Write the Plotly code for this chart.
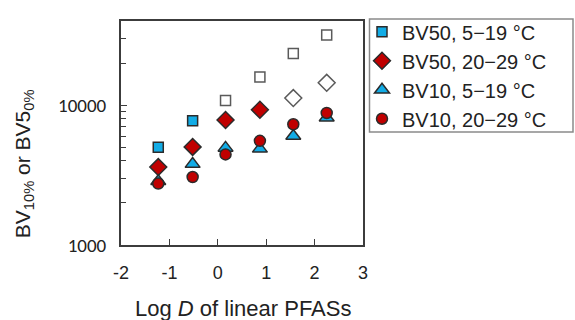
import plotly.graph_objects as go

# ---- data ----
log_d = [-1.23, -0.52, 0.16, 0.87, 1.56, 2.25]

bv50_cold = [5000, 7740, 10790, 15900, 23450, 31780]      # BV50, 5-19 °C
bv50_warm = [3610, 5030, 7830, 9270, 11240, 14450]        # BV50, 20-29 °C
bv10_cold = [2860, 3790, 4950, 4870, 6025, 8120]          # BV10, 5-19 °C
bv10_warm = [2752, 3063, 4445, 5560, 7300, 8795]          # BV10, 20-29 °C

# points drawn as open (white) markers in the reference
bv50_cold_open = [False, False, True, True, True, True]
bv50_warm_open = [False, False, False, False, True, True]

names = ["BV50, 5\u221219 \u00b0C", "BV50, 20\u221229 \u00b0C",
         "BV10, 5\u221219 \u00b0C", "BV10, 20\u221229 \u00b0C"]

x_ticks = [-2, -1, 0, 1, 2, 3]
y_ticks = [1000, 10000]
y_minor = [2000, 3000, 4000, 5000, 6000, 7000, 8000, 9000, 20000, 30000]

x_title = "Log <i>D</i> of linear PFASs"
y_title = "BV<sub>10%</sub> or BV5<sub>0%</sub>"

BLUE = "#12ACE6"
RED = "#C00000"
EDGE = "#2b2b2b"
OPEN_EDGE = "#5a5a5a"
AX = "#3c3c3c"


def fills(color, open_flags):
    return ["white" if o else color for o in open_flags]


def edges(open_flags):
    return [OPEN_EDGE if o else EDGE for o in open_flags]


fig = go.Figure()
fig.add_trace(go.Scatter(
    x=log_d, y=bv50_cold, mode="markers", name=names[0],
    marker=dict(symbol="square", size=10, color=fills(BLUE, bv50_cold_open),
                line=dict(color=edges(bv50_cold_open), width=1.5))))
fig.add_trace(go.Scatter(
    x=log_d, y=bv50_warm, mode="markers", name=names[1],
    marker=dict(symbol="diamond", size=13, color=fills(RED, bv50_warm_open),
                line=dict(color=edges(bv50_warm_open), width=1.5))))
fig.add_trace(go.Scatter(
    x=log_d, y=bv10_cold, mode="markers", name=names[2],
    marker=dict(symbol="triangle-up", size=13, color=BLUE,
                line=dict(color=EDGE, width=1.5))))
fig.add_trace(go.Scatter(
    x=log_d, y=bv10_warm, mode="markers", name=names[3],
    marker=dict(symbol="circle", size=11, color=RED,
                line=dict(color=EDGE, width=1.5))))

axis_line = dict(showline=True, linecolor=AX, linewidth=2, mirror=True,
                 showgrid=False, zeroline=False)

fig.update_xaxes(
    range=[-2, 3], tickmode="array", tickvals=x_ticks,
    ticktext=[str(v) for v in x_ticks],
    ticks="inside", ticklen=6, tickwidth=1.2, tickcolor=AX,
    ticklabelstandoff=10,
    tickfont=dict(family="Liberation Sans", size=18, color="#222"),
    **axis_line)

fig.update_yaxes(
    type="log", range=[3, 4.602], tickmode="array", tickvals=y_ticks,
    ticktext=[str(v) for v in y_ticks],
    ticks="inside", ticklen=6, tickwidth=1.2, tickcolor=AX,
    ticklabelstandoff=9,
    minor=dict(ticks="inside", ticklen=5, tickwidth=1.2, tickcolor=AX,
               tickvals=y_minor, showgrid=False),
    tickfont=dict(family="Carlito, Calibri, Liberation Sans", size=19, color="#222"),
    **axis_line)

# plot area: x 121..363 px, y 15..245 px
def px_x(p):
    return (p - 121) / 242.0


def px_y(p):
    return (245 - p) / 230.0


fig.add_annotation(text=x_title, xref="paper", yref="paper",
                   x=px_x(243), y=px_y(310), xanchor="center", yanchor="middle",
                   showarrow=False,
                   font=dict(family="Liberation Sans", size=22, color="#222"))
fig.add_annotation(text=y_title, xref="paper", yref="paper", textangle=-90,
                   x=px_x(24), y=px_y(162), xanchor="center", yanchor="middle",
                   showarrow=False,
                   font=dict(family="Liberation Sans", size=21, color="#222"))

# legend frame
fig.add_shape(type="rect", xref="paper", yref="paper",
              x0=px_x(369.5), x1=px_x(573), y0=px_y(129), y1=px_y(13),
              line=dict(color="#8a8a8a", width=1.5), fillcolor="rgba(0,0,0,0)",
              layer="above")

fig.update_layout(
    width=575, height=320,
    margin=dict(l=121, r=212, t=15, b=75),
    plot_bgcolor="white", paper_bgcolor="white",
    showlegend=True,
    legend=dict(x=px_x(362), y=px_y(6), xanchor="left", yanchor="top",
                borderwidth=0, bgcolor="rgba(0,0,0,0)",
                font=dict(family="Liberation Sans", size=20, color="#222"),
                itemwidth=30, tracegroupgap=0),
)

fig.write_html("out.html")
